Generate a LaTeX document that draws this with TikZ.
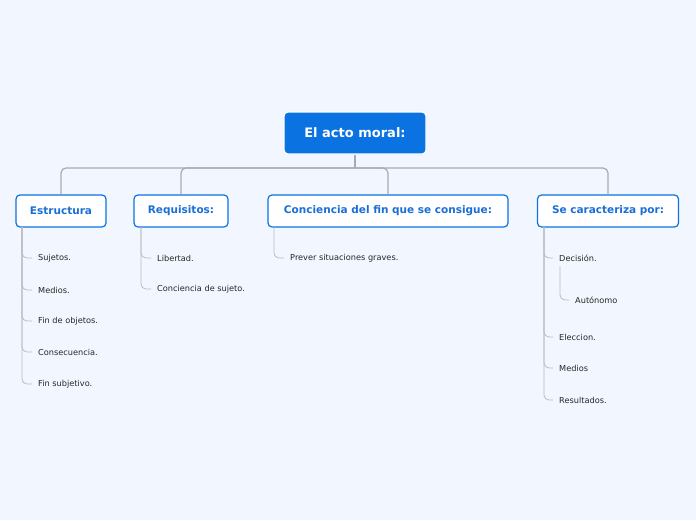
\documentclass[tikz,border=0pt]{standalone}
\usepackage{fontspec}
\setmainfont{DejaVu Sans}
\definecolor{bg}{HTML}{F2F6FE}
\definecolor{mblue}{HTML}{0B72E2}
\definecolor{tblue}{HTML}{1A6FD6}
\definecolor{lgray}{HTML}{A8ACB2}
\begin{document}
\begin{tikzpicture}[x=1pt,y=-1pt,
  rootbox/.style={fill=mblue,draw=white,line width=1.2pt,rounded corners=4pt,minimum width=142pt,minimum height=42pt,text=white,font=\fontsize{13}{15}\selectfont\bfseries},
  childbox/.style={fill=white,draw=mblue,line width=1.2pt,rounded corners=4pt,minimum height=32pt,text=tblue,font=\fontsize{10.5}{12}\selectfont\bfseries},
  leaf/.style={anchor=west,inner sep=0pt,font=\fontsize{8.2}{10}\selectfont,text=black!85},
  conn/.style={draw=lgray,line width=1.2pt,rounded corners=5pt},
  lconn/.style={draw=lgray!80,line width=0.8pt,rounded corners=5pt}]
\useasboundingbox[fill=bg] (0,0) rectangle (696,520);
\node[rootbox] (root) at (355,133) {El acto moral:};
\node[childbox,minimum width=90pt] (c1) at (61,211) {Estructura};
\node[childbox,minimum width=94pt] (c2) at (181,211) {Requisitos:};
\node[childbox,minimum width=240pt] (c3) at (388,211) {Conciencia del fin que se consigue:};
\node[childbox,minimum width=141pt] (c4) at (608,211) {Se caracteriza por:};
\coordinate (hub) at (355,168);
\draw[conn] (root.south) -- (hub);
\foreach \c in {c1,c2,c3,c4}{\draw[conn] ([xshift=-0.1pt]hub) -| (\c.north);}
% leaves
\foreach \t/\y [count=\i] in {Sujetos./258,Medios./290,Fin de objetos./321,Consecuencia./352,Fin subjetivo./384}{
  \node[leaf] (a\i) at (38,\y) {\t};
  \draw[lconn] (22,227) |- ([xshift=-6pt]a\i.west);}
\foreach \t/\y [count=\i] in {Libertad./258,Conciencia de sujeto./289}{
  \node[leaf] (b\i) at (157,\y) {\t};
  \draw[lconn] (141,227) |- ([xshift=-6pt]b\i.west);}
\node[leaf] (d1) at (290,258) {Prever situaciones graves.};
\draw[lconn] (274,227) |- ([xshift=-6pt]d1.west);
\foreach \t/\y [count=\i] in {Decisión./258,Eleccion./337,Medios/368,Resultados./400}{
  \node[leaf] (e\i) at (559,\y) {\t};
  \draw[lconn] (544,227) |- ([xshift=-6pt]e\i.west);}
\node[leaf] (f1) at (575,300) {Autónomo};
\draw[lconn] (560,266) |- ([xshift=-6pt]f1.west);
\end{tikzpicture}
\end{document}
